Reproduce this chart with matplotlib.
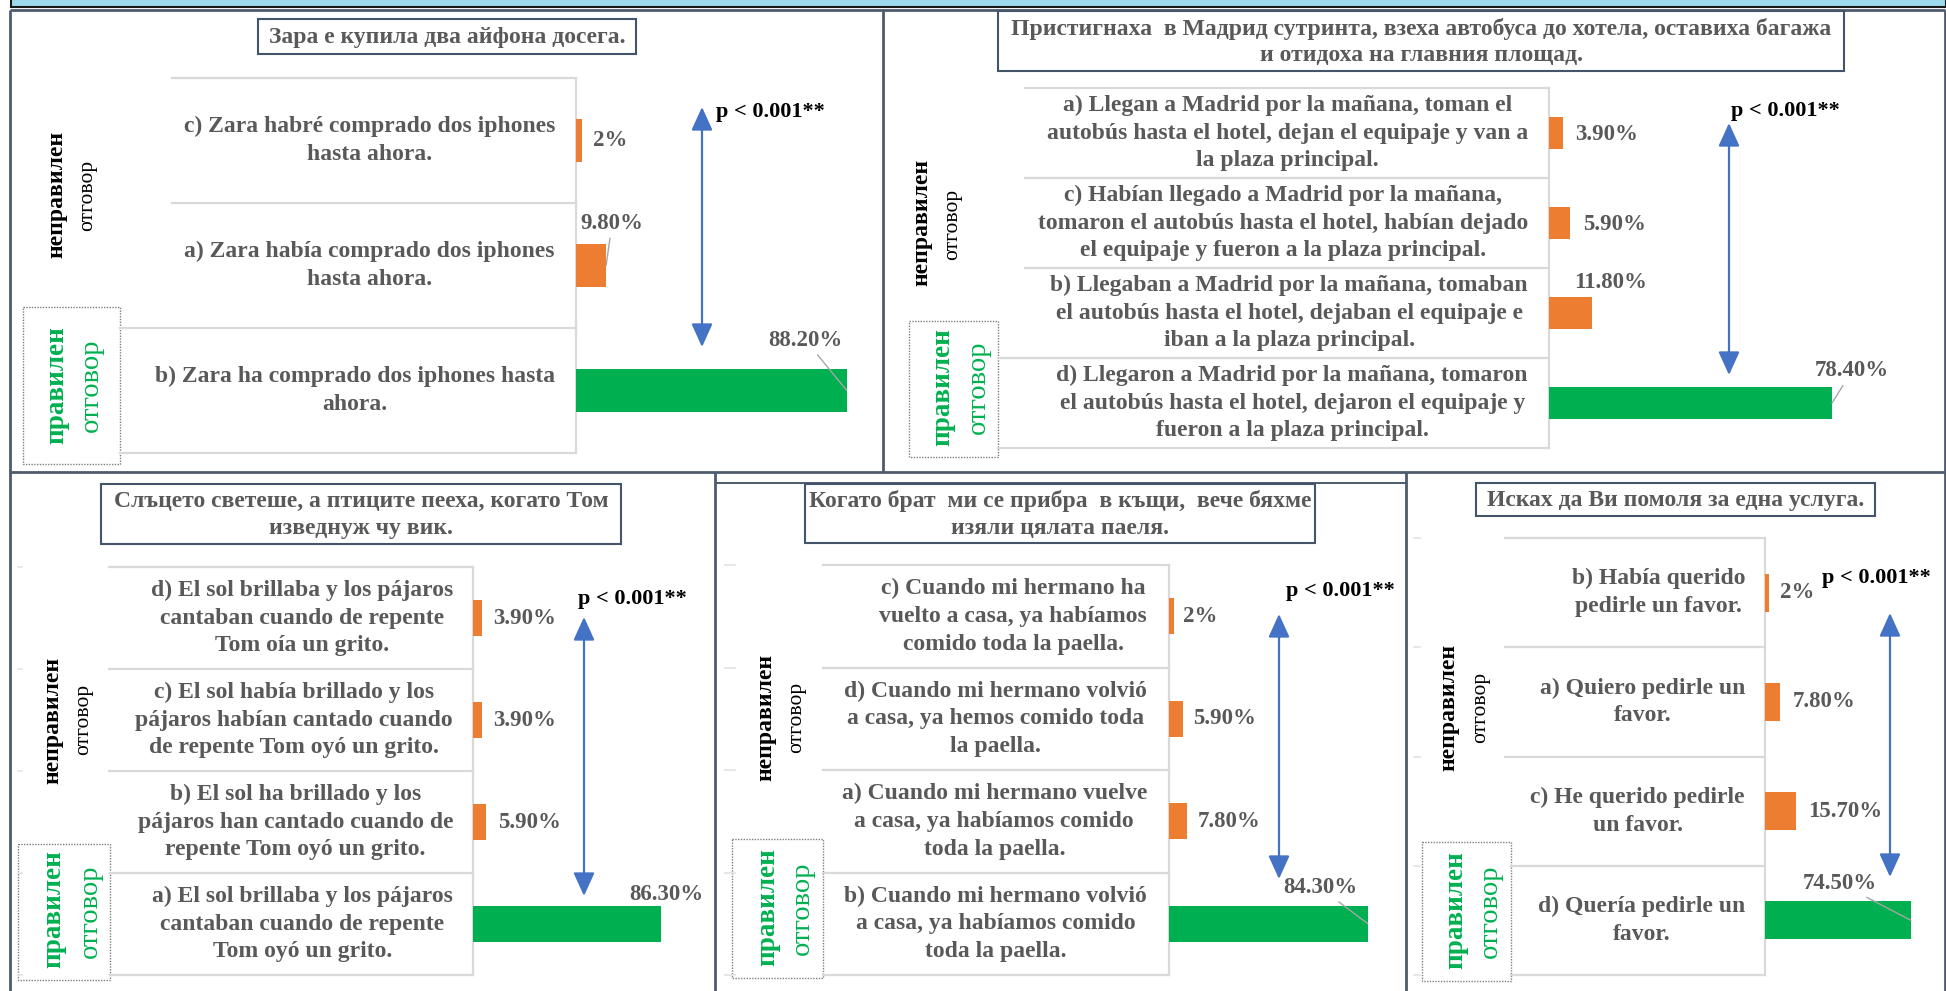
import matplotlib
matplotlib.use("Agg")
import matplotlib.pyplot as plt
import matplotlib.transforms as mtransforms
from matplotlib.patches import Rectangle, FancyArrowPatch

plt.rcParams['font.family'] = ['Liberation Serif', 'DejaVu Serif']

# ------------------------------------------------------------------ data
titles = [
    "Зара е купила два айфона досега.",
    "Пристигнаха  в Мадрид сутринта, взеха автобуса до хотела, оставиха багажа\nи отидоха на главния площад.",
    "Слъцето светеше, а птиците пееха, когато Том\nизведнуж чу вик.",
    "Когато брат  ми се прибра  в къщи,  вече бяхме\nизяли цялата паеля.",
    "Исках да Ви помоля за една услуга.",
]

options_1 = ["c) Zara habré comprado dos iphones\nhasta ahora.",
             "a) Zara había comprado dos iphones\nhasta ahora.",
             "b) Zara ha comprado dos iphones hasta\nahora."]
values_1 = [2.0, 9.8, 88.2]
labels_1 = ["2%", "9.80%", "88.20%"]

options_2 = ["a) Llegan a Madrid por la mañana, toman el\nautobús hasta el hotel, dejan el equipaje y van a\nla plaza principal.",
             "c) Habían llegado a Madrid por la mañana,\ntomaron el autobús hasta el hotel, habían dejado\nel equipaje y fueron a la plaza principal.",
             "b) Llegaban a Madrid por la mañana, tomaban\nel autobús hasta el hotel, dejaban el equipaje e\niban a la plaza principal.",
             "d) Llegaron a Madrid por la mañana, tomaron\nel autobús hasta el hotel, dejaron el equipaje y\nfueron a la plaza principal."]
values_2 = [3.9, 5.9, 11.8, 78.4]
labels_2 = ["3.90%", "5.90%", "11.80%", "78.40%"]

options_3 = ["d) El sol brillaba y los pájaros\ncantaban cuando de repente\nTom oía un grito.",
             "c) El sol había brillado y los\npájaros habían cantado cuando\nde repente Tom oyó un grito.",
             "b) El sol ha brillado y los\npájaros han cantado cuando de\nrepente Tom oyó un grito.",
             "a) El sol brillaba y los pájaros\ncantaban cuando de repente\nTom oyó un grito."]
values_3 = [3.9, 3.9, 5.9, 86.3]
labels_3 = ["3.90%", "3.90%", "5.90%", "86.30%"]

options_4 = ["c) Cuando mi hermano ha\nvuelto a casa, ya habíamos\ncomido toda la paella.",
             "d) Cuando mi hermano volvió\na casa, ya hemos comido toda\nla paella.",
             "a) Cuando mi hermano vuelve\na casa, ya habíamos comido\ntoda la paella.",
             "b) Cuando mi hermano volvió\na casa, ya habíamos comido\ntoda la paella."]
values_4 = [2.0, 5.9, 7.8, 84.3]
labels_4 = ["2%", "5.90%", "7.80%", "84.30%"]

options_5 = ["b) Había querido\npedirle un favor.",
             "a) Quiero pedirle un\nfavor.",
             "c) He querido pedirle\nun favor.",
             "d) Quería pedirle un\nfavor."]
values_5 = [2.0, 7.8, 15.7, 74.5]
labels_5 = ["2%", "7.80%", "15.70%", "74.50%"]

p_label = "p < 0.001**"
wrong_word = "неправилен"
right_word = "правилен"
answer_word = "отговор"

options = [options_1, options_2, options_3, options_4, options_5]
values = [values_1, values_2, values_3, values_4, values_5]
labels = [labels_1, labels_2, labels_3, labels_4, labels_5]

# ------------------------------------------------------------------ layout (pixels of 1946x991 canvas)
W, H = 1946, 991
ORANGE = '#ED7D31'
GREEN = '#00B050'
GRAY_TXT = '#595959'
GRID = '#D9D9D9'
BORDER = '#4E5B6E'
ARROW = '#4472C4'
LEADER = '#A6A6A6'

panels = [
    dict(tbox=(258, 636, 19, 54), rows=(78, 453), bx=576, ppp=3.07, tr=555, lx=(172, 120),
         arrow=(702, 107, 347), p=(716, 112), wrong=((57, 194), (88, 195)),
         box=(23, 120, 307, 464), right=((57, 385), (91, 385)), ticks=None,
         offs=[(11, 0, 'left', False), (6, 42, 'center', True), (-41, 50, 'center', True)]),
    dict(tbox=(998, 1844, 11, 71), rows=(88, 448), bx=1549, ppp=3.61, tr=1528, lx=(1025, 998),
         arrow=(1729, 123, 375), p=(1731, 111), wrong=((922, 222), (953, 224)),
         box=(909, 998, 321, 457), right=((943, 387), (978, 387)), ticks=None,
         offs=[(12, -1, 'left', False), (13, -1, 'left', False), (19, 30, 'center', False), (20, 32, 'center', True)]),
    dict(tbox=(101, 621, 484, 544), rows=(567, 975), bx=473, ppp=2.18, tr=453, lx=(109, 110),
         arrow=(584, 617, 896), p=(578, 599), wrong=((53, 720), (84, 719)),
         box=(18, 110, 844, 980), right=((54, 909), (90, 911)), ticks=(18, 22),
         offs=[(12, 0, 'left', False), (12, 0, 'left', False), (12, 0, 'left', False), (5, 30, 'center', False)]),
    dict(tbox=(805, 1315, 484, 543), rows=(565, 975), bx=1169, ppp=2.36, tr=1147, lx=(823, 823),
         arrow=(1279, 614, 879), p=(1286, 591), wrong=((766, 717), (797, 717)),
         box=(732, 823, 839, 978), right=((768, 907), (802, 908)), ticks=(725, 735),
         offs=[(9, 0, 'left', False), (10, 0, 'left', False), (10, 0, 'left', False), (-48, 36, 'center', True)]),
    dict(tbox=(1476, 1875, 483, 516), rows=(538, 975), bx=1765, ppp=1.96, tr=1745, lx=(1505, 1511),
         arrow=(1890, 613, 877), p=(1822, 578), wrong=((1449, 707), (1481, 707)),
         box=(1422, 1511, 842, 981), right=((1456, 910), (1490, 911)), ticks=(1414, 1420),
         offs=[(11, 0, 'left', False), (12, 0, 'left', False), (12, 0, 'left', False), (-71, 37, 'center', True)]),
]

CAT_FS = 17
CAT_LS = 1.42
TITLE_FS = 17
TITLE_LS = 1.36
VAL_FS = 16.5
P_FS = 16

fig = plt.figure(figsize=(W / 100, H / 100), dpi=100)
fig.patch.set_facecolor('white')
bg = fig.add_axes([0, 0, 1, 1])
bg.set_xlim(0, W)
bg.set_ylim(H, 0)
bg.axis('off')

# top band
bg.add_patch(Rectangle((11, -6), W - 11, 13, facecolor='#9DD9EA', edgecolor='#1A1A1A', lw=1.5))

# panel borders
def bline(xs, ys, lw=2.0):
    bg.plot(xs, ys, color=BORDER, lw=lw, solid_capstyle='butt')

bline([10, 1945], [10, 10])
bline([10, 10], [10, 991])
bline([1945, 1945], [10, 991])
bline([10, 1945], [472, 472])
bline([883, 883], [10, 472])
bline([715, 715], [472, 991])
bline([1406, 1406], [472, 991])
bline([715, 1406], [483, 483], lw=1.4)

for i, p in enumerate(panels):
    vals = values[i]
    opts = options[i]
    labs = labels[i]
    n = len(vals)

    # title box
    x0, x1, y0, y1 = p['tbox']
    bg.add_patch(Rectangle((x0, y0), x1 - x0, y1 - y0, facecolor='white', edgecolor='#44546A', lw=1.5, zorder=3))
    bg.text((x0 + x1) / 2, (y0 + y1) / 2 + 1, titles[i], ha='center', va='center', multialignment='center',
            fontsize=TITLE_FS, fontweight='bold', color=GRAY_TXT, linespacing=TITLE_LS, zorder=4)

    # bar axes
    top, bot = p['rows']
    ax = fig.add_axes([p['bx'] / W, 1 - bot / H, p['ppp'] * 100 / W, (bot - top) / H])
    ax.set_xlim(0, 100)
    ax.set_ylim(n - 0.5, -0.5)
    ax.axis('off')
    ax.patch.set_alpha(0)
    colors = [ORANGE] * (n - 1) + [GREEN]
    ax.barh(range(n), vals, height=0.35, color=colors, zorder=2)

    tr = mtransforms.blended_transform_factory(bg.transData, ax.transData)
    for k in range(n + 1):
        yk = k - 0.5
        xs = p['lx'][0] if k < n - 1 else p['lx'][1]
        ax.plot([xs, p['bx']], [yk, yk], transform=tr, color=GRID, lw=1.6, clip_on=False, zorder=1)
        if p['ticks'] is not None:
            ax.plot(list(p['ticks']), [yk, yk], transform=tr, color='#E3E3E3', lw=1.2, clip_on=False)
    ax.plot([p['bx'], p['bx']], [-0.5, n - 0.5], transform=tr, color=GRID, lw=1.6, clip_on=False, zorder=1)

    for k, opt in enumerate(opts):
        ax.text(p['tr'], k, opt, transform=tr, ha='right', va='center', multialignment='center',
                fontsize=CAT_FS, fontweight='bold', color=GRAY_TXT, linespacing=CAT_LS, clip_on=False)

    for k, (v, lab) in enumerate(zip(vals, labs)):
        dx, dy, ha, leader = p['offs'][k]
        kw = {}
        if leader:
            kw['arrowprops'] = dict(arrowstyle='-', color=LEADER, lw=1.0, shrinkA=1, shrinkB=0)
        ax.annotate(lab, xy=(v, k), xytext=(dx, dy), textcoords='offset pixels', ha=ha, va='center',
                    fontsize=VAL_FS, fontweight='bold', color=GRAY_TXT, annotation_clip=False, **kw)

    # arrow and p-value
    axx, ay0, ay1 = p['arrow']
    bg.add_patch(FancyArrowPatch((axx, ay0), (axx, ay1), arrowstyle='<|-|>,head_length=1.1,head_width=0.5',
                                 mutation_scale=13, color=ARROW, lw=1.6, shrinkA=0, shrinkB=0, zorder=5))
    bg.text(p['p'][0], p['p'][1], p_label, ha='left', va='center', fontsize=P_FS, fontweight='bold',
            color='black', zorder=6)

    # side labels
    (wx1, wy1), (wx2, wy2) = p['wrong']
    bg.text(wx1, wy1, wrong_word, rotation=90, ha='center', va='center', fontsize=17, fontweight='bold', color='black')
    bg.text(wx2, wy2, answer_word, rotation=90, ha='center', va='center', fontsize=15.5, color='black')
    bx0, bx1, by0, by1 = p['box']
    bg.add_patch(Rectangle((bx0, by0), bx1 - bx0, by1 - by0, facecolor='white', edgecolor='#7F7F7F',
                           lw=1.0, linestyle=(0, (1, 1))))
    (rx1, ry1), (rx2, ry2) = p['right']
    bg.text(rx1, ry1, right_word, rotation=90, ha='center', va='center', fontsize=19.5, fontweight='bold', color=GREEN)
    bg.text(rx2, ry2, answer_word, rotation=90, ha='center', va='center', fontsize=20.5, color=GREEN)

fig.savefig('out.png', dpi=100, facecolor='white')
